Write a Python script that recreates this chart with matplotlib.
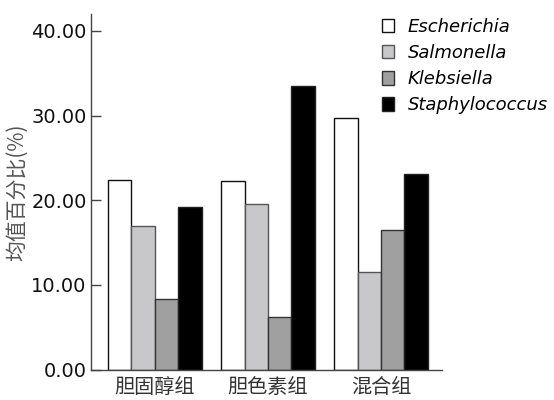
import numpy as np
import matplotlib
matplotlib.use("Agg")
import matplotlib.pyplot as plt
from matplotlib.patches import Patch

plt.rcParams['font.family'] = ['DejaVu Sans', 'Noto Sans CJK SC']

groups = ["胆固醇组", "胆色素组", "混合组"]
series = ["Escherichia", "Salmonella", "Klebsiella", "Staphylococcus"]
escherichia = [22.4, 22.3, 29.7]
salmonella = [17.0, 19.6, 11.5]
klebsiella = [8.3, 6.2, 16.5]
staphylococcus = [19.2, 33.5, 23.1]
yticks = [0, 10, 20, 30, 40]

values = [escherichia, salmonella, klebsiella, staphylococcus]
colors = ["#ffffff", "#c8c8ca", "#a0a0a0", "#000000"]
edges = ["#111111", "#555555", "#333333", "#222222"]

fig = plt.figure(figsize=(5.54, 4.0), dpi=100)
ax = fig.add_axes([0.164, 0.076, 0.634, 0.889])

x = np.arange(len(groups))
w = 0.207
for i, (vals, c, e) in enumerate(zip(values, colors, edges)):
    ax.bar(x + (i - 1.5) * w, vals, width=w, color=c, edgecolor=e,
           linewidth=1.0, zorder=2)

ax.set_xlim(-0.566, 2.54)
ax.set_ylim(0, 42)
ax.set_yticks(yticks)
ax.set_yticklabels([f"{t:.2f}" for t in yticks], fontsize=14, color="#111111")
ax.set_xticks(x)
ax.set_xticklabels(groups, fontsize=14.5, color="#333333",
                   family=['Noto Sans CJK SC', 'DejaVu Sans'])
ax.tick_params(axis='x', length=0, pad=5)
ax.tick_params(axis='y', direction='in', length=7, width=1, color="#444444", pad=3)

for s in ["top", "right"]:
    ax.spines[s].set_visible(False)
for s in ["left", "bottom"]:
    ax.spines[s].set_color("#444444")
    ax.spines[s].set_linewidth(1.0)

ax.set_ylabel("均值百分比(%)", fontsize=15, color="#555555",
              family=['Noto Sans CJK SC', 'DejaVu Sans'], labelpad=2)

handles = [Patch(facecolor=c, edgecolor=e, linewidth=1.0) for c, e in zip(colors, edges)]
leg = fig.legend(handles, series, loc="upper left", bbox_to_anchor=(0.6895, 0.955),
                 frameon=False, handlelength=0.68, handleheight=0.75,
                 handletextpad=0.75, labelspacing=0.45, borderpad=0,
                 borderaxespad=0, prop={'style': 'italic', 'size': 13})

fig.savefig("out.png", dpi=100)
